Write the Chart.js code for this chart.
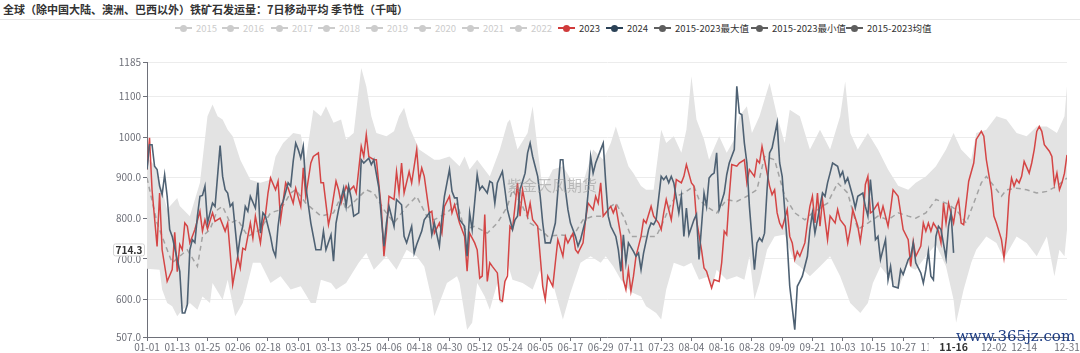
<!DOCTYPE html>
<html>
<head>
<meta charset="utf-8">
<script src="https://cdn.jsdelivr.net/npm/chart.js@4.4.1/dist/chart.umd.min.js"></script>
<style>
  html, body { margin: 0; padding: 0; background: #fff; }
  #wrap { position: relative; width: 1080px; height: 353px; overflow: hidden;
          font-family: "Noto Sans CJK SC", "Noto Sans", sans-serif; }
  #title { position: absolute; left: 3px; top: 1px; font-size: 11px; font-weight: bold; color: #333; white-space: nowrap; }
  #sep { position: absolute; left: 0; right: 0; top: 19px; height: 1px; background: #e6e6e6; }
  .lg { position: absolute; top: 21px; height: 14px; font-size: 9.5px; line-height: 14px; white-space: nowrap; }
  .lg i { position: absolute; left: 0; top: 6px; width: 17px; height: 2px; }
  .lg b { position: absolute; left: 5px; top: 3.5px; width: 7px; height: 7px; border-radius: 50%; }
  .lg span { position: absolute; left: 21px; top: 0; }
  canvas { position: absolute; left: 0; top: 0; }
  #wm1 { position: absolute; left: 507px; top: 174px; font-size: 15px; color: rgba(150,150,150,0.55); white-space: nowrap; }
  #wm2 { position: absolute; left: 956px; top: 327px; font-family: "DejaVu Serif", "Liberation Serif", serif;
         font-size: 15px; color: #1d3d84; white-space: nowrap; }
</style>
</head>
<body>
<div id="wrap">
  <div id="title">全球（除中国大陆、澳洲、巴西以外）铁矿石发运量：7日移动平均 季节性（千吨）</div>
  <div id="sep"></div>
  <div id="legend"></div>
  <canvas id="c" width="1080" height="353"></canvas>
  <div id="wm1">紫金天风期货</div>
  <div id="wm2">www.365jz.com</div>
</div>
<script>
// ── axis ticks ──
const Y_TICKS  = [507, 600, 700, 800, 900, 1000, 1100, 1185];
const Y_LABELS = ['507.0', '600.0', '700.0', '800.0', '900.0', '1000', '1100', '1185'];
const X_TICKS  = [0, 12, 24, 36, 48, 60, 72, 84, 96, 108, 120, 132, 144, 156, 168, 180,
                  192, 204, 216, 228, 240, 252, 264, 276, 288, 300, 312, 336, 348, 365];

// ── legend ──
const LEGEND_LABELS = ['2015', '2016', '2017', '2018', '2019', '2020', '2021', '2022',
                       '2023', '2024', '2015-2023最大值', '2015-2023最小值', '2015-2023均值'];
const LEGEND_LEFT   = [175, 222, 271, 318, 366, 414, 462, 510, 558, 606, 654, 751, 846];

// ── 2023 (day of year, value) ──
const D23 = [0,1,2,4,5,6,8,10,11,12,13,14,15,16,17,19,21,22,23,24,26,27,29,31,32,33,34,36,37,38,39,40,41,42,43,45,46,47,48,49,
  51,52,53,55,56,58,59,61,62,63,65,66,68,69,70,72,73,75,76,77,79,80,82,83,85,86,87,88,90,91,93,94,95,96,98,99,100,101,102,104,
  105,107,108,109,110,112,113,114,116,117,118,120,121,122,124,126,127,128,130,131,132,133,134,135,136,137,139,140,141,142,143,144,145,147,148,149,
  151,152,153,155,156,157,158,159,161,162,163,165,166,167,169,170,171,173,174,175,177,178,179,180,181,182,184,185,186,188,189,190,191,192,193,194,
  196,197,198,200,201,203,204,205,206,208,209,210,212,213,214,216,217,218,220,221,222,223,224,225,227,228,229,230,231,232,234,235,237,238,239,241,
  242,243,244,245,247,248,249,250,251,252,254,255,256,257,258,259,261,262,263,264,265,266,267,268,270,271,273,274,275,277,278,279,280,282,283,284,
  285,286,287,288,290,291,292,294,295,296,298,299,300,302,303,304,305,307,308,309,310,311,312,314,315,316,317,318,320,321,322,323,324,325,326,328,
  329,331,332,333,335,336,337,339,340,341,342,343,344,345,346,347,348,350,351,352,353,354,355,356,358,359,360,361,362,363,364,365];
const V23 = [920,998,870,730,862,722,644,673,765,668,735,722,788,780,739,772,817,768,796,773,813,792,800,768,788,714,636,706,677,726,722,755,788,751,805,739,788,809,862,899,
  870,891,796,887,874,837,874,829,924,854,936,952,961,887,887,784,813,891,870,837,879,866,879,862,977,952,1006,952,944,944,821,706,768,854,846,915,862,936,862,915,
  887,969,891,924,903,813,817,763,788,763,829,854,813,833,788,755,669,763,739,722,652,657,809,644,690,681,665,599,595,644,657,780,772,887,805,870,
  805,837,796,780,706,632,599,657,632,690,747,706,755,739,763,722,714,739,796,837,821,854,837,887,805,813,829,813,829,755,648,624,673,620,657,706,
  755,796,788,829,805,788,772,813,846,796,841,895,887,903,932,887,879,796,722,677,669,648,628,648,644,690,768,759,854,932,928,936,944,887,920,903,
  944,936,977,944,879,858,870,813,788,776,821,755,739,698,718,706,739,788,829,854,788,862,780,846,747,805,788,821,796,780,739,772,821,780,743,788,
  883,903,813,817,837,805,829,780,821,870,854,813,772,747,681,743,706,731,788,768,788,768,788,768,739,837,788,837,788,829,846,788,784,837,891,936,
  994,1014,1002,944,870,805,788,747,702,755,854,899,879,895,887,903,940,911,936,969,1014,1026,1014,981,965,952,883,911,870,887,911,956];

// ── 2024 ──
const D24 = [0,1,2,3,4,5,6,7,8,9,10,12,13,14,15,16,17,18,19,20,21,22,23,24,25,26,27,29,30,31,32,33,34,36,37,38,39,40,41,43,
  44,45,46,47,49,50,51,52,53,54,56,57,58,59,60,61,62,63,65,66,67,69,70,71,73,74,75,76,78,79,80,81,82,84,85,86,88,89,90,92,
  93,94,95,96,98,99,101,102,103,105,106,107,109,110,112,113,114,116,117,118,120,121,122,123,124,126,127,128,129,131,132,133,135,136,137,138,139,141,142,143,
  145,146,147,148,150,151,152,153,155,156,157,158,160,161,162,164,165,166,167,168,170,171,172,174,175,176,177,178,180,181,182,183,184,186,187,188,189,190,191,193,
  194,195,196,197,199,200,201,202,204,205,206,207,208,209,211,212,213,214,215,217,218,219,221,222,223,224,225,226,227,229,230,231,233,234,235,236,237,238,239,241,
  242,243,244,245,246,247,248,250,251,252,254,255,257,258,259,260,262,263,264,265,266,268,269,270,271,272,274,275,276,277,278,280,281,282,284,285,286,287,288,289,
  290,291,293,294,295,296,298,299,300,302,303,304,305,307,308,309,310,311,312,313,314,315,317,318,319,320];
const V24 = [920,981,981,928,920,879,858,907,854,772,755,698,669,566,566,587,722,747,740,805,854,856,879,788,813,837,829,979,903,870,862,829,837,710,755,780,829,817,854,825,
  887,763,813,805,755,722,706,780,829,841,887,879,940,985,969,948,977,879,788,755,722,722,768,722,759,694,788,821,874,829,879,850,805,813,944,936,948,932,944,874,
  800,731,788,829,780,846,833,755,739,780,714,735,768,796,813,759,788,731,800,854,920,866,850,850,796,780,706,813,772,907,870,879,862,891,887,837,887,915,870,821,
  772,796,805,870,911,961,985,952,903,854,788,739,739,763,788,944,944,870,821,788,755,731,747,796,862,952,911,936,969,985,887,805,780,755,722,669,759,690,739,718,
  706,714,673,714,772,788,784,796,903,895,903,887,903,887,813,854,755,825,759,796,809,698,862,829,899,907,911,961,821,862,907,936,969,1125,1059,1055,985,936,829,673,
  739,751,743,763,870,961,973,1035,936,903,739,632,525,632,644,657,706,772,813,763,796,862,854,887,911,936,928,903,915,887,899,854,825,854,862,829,805,895,829,747,
  755,698,747,648,681,632,628,673,661,698,706,739,690,665,640,673,718,657,648,755,780,772,702,780,813,714.3];

// ── 2015-2023 average ──
const DAVG = [0,4,8,10,13,16,20,22,25,28,30,33,36,40,45,49,53,57,59,63,69,74,77,79,87,90,94,98,103,107,111,114,119,123,126,130,135,139,143,145,
  149,152,156,159,164,169,173,177,181,184,186,189,192,196,198,202,204,208,210,213,217,219,222,226,230,234,238,242,245,249,253,257,261,264,270,274,278,282,286,290,
  294,298,302,305,309,313,317,321,325,328,331,333,336,339,341,345,349,353,357,361,365];
const VAVG = [899,788,722,690,706,722,681,755,772,821,829,788,796,755,772,813,821,862,870,837,805,813,854,821,870,862,821,788,829,854,805,796,813,837,772,780,763,788,829,870,
  829,788,772,755,759,755,796,805,805,829,837,805,755,755,755,755,780,837,854,862,879,846,829,813,846,841,854,870,952,944,854,813,796,813,837,887,862,772,788,805,
  796,813,805,800,813,846,837,821,788,837,887,903,879,854,870,874,870,862,866,879,899];

// ── 2015-2023 max ──
const DMAX = [0,3,6,8,12,13,17,21,24,26,28,30,32,34,37,41,45,49,51,54,58,61,63,66,69,71,74,77,79,82,84,85,87,89,91,95,98,100,102,104,
  108,114,116,120,124,126,128,131,136,140,143,144,147,151,153,155,157,161,165,169,173,177,181,184,186,188,191,193,196,198,201,204,206,209,212,214,216,218,221,223,
  227,230,233,235,238,240,243,247,250,253,255,259,263,267,271,275,277,279,282,286,290,294,298,302,305,309,313,317,320,323,327,329,333,337,341,345,349,353,357,361,364,365];
const VMAX = [951,930,870,822,850,830,805,887,1051,1080,1051,1043,1018,1002,944,895,887,895,952,985,1010,1006,944,1067,1051,1076,1035,1043,994,1010,1117,1170,1125,1051,1010,1002,1014,1051,1072,1026,
  969,944,944,952,928,952,920,944,903,969,1035,1043,969,1010,1076,969,870,920,928,887,887,969,944,985,1026,985,928,911,879,870,870,1018,985,1002,961,1018,1150,1043,994,944,
  1002,961,994,1051,1076,1010,1051,1133,1051,985,1067,1051,969,1018,969,1051,1137,1010,969,1010,969,920,880,870,887,903,928,969,1010,969,944,1010,1018,1051,1043,1010,1002,1026,1026,1010,1051,1125];

// ── 2015-2023 min ──
const DMIN = [0,5,6,8,10,12,14,17,20,22,25,26,30,32,35,38,42,45,49,53,57,61,65,67,69,73,75,79,84,87,90,95,99,103,107,110,113,114,116,119,
  123,124,127,129,131,134,136,139,140,141,143,145,149,153,156,158,159,161,165,168,172,176,180,182,185,188,192,196,198,202,204,206,209,213,216,219,223,224,226,230,
  234,237,239,241,243,246,249,253,255,257,259,263,267,271,275,279,283,286,288,291,294,298,302,303,305,309,313,317,320,321,324,327,329,333,337,340,345,349,353,357,360,362,364,365];
const VMIN = [675,673,624,591,583,558,574,591,574,607,591,640,599,648,558,591,690,690,640,657,624,632,591,591,648,640,624,640,690,714,673,706,673,722,706,681,599,558,591,640,
  657,640,525,542,640,607,574,640,590,590,690,648,640,624,673,595,657,640,550,616,690,706,690,706,681,648,618,607,583,566,550,624,690,681,690,648,657,625,673,648,
  657,648,706,600,640,722,755,760,722,690,681,657,681,706,657,591,566,591,640,681,657,624,690,678,673,706,735,681,599,542,624,690,722,755,739,700,755,739,706,755,657,722,706,772];

const pts = (ds, vs) => ds.map((d, i) => ({ x: d, y: vs[i] }));

const AXIS = '#6e7079';
const FONT = '"Noto Sans CJK SC", "Noto Sans", sans-serif';

function dayLabel(v) {
  const dt = new Date(2024, 0, 1 + v);
  const mm = String(dt.getMonth() + 1).padStart(2, '0');
  const dd = String(dt.getDate()).padStart(2, '0');
  return mm + '-' + dd;
}

// Legend (years 2015–2022 are switched off, greyed)
const legendColors = ['#ccc','#ccc','#ccc','#ccc','#ccc','#ccc','#ccc','#ccc','#d03b3b','#2b4257','#5e5e5e','#5e5e5e','#5e5e5e'];
document.getElementById('legend').innerHTML = LEGEND_LABELS.map((lbl, i) => {
  const on = i >= 8;
  const c = legendColors[i];
  return `<div class="lg" style="left:${LEGEND_LEFT[i]}px">
    <i style="background:${c}"></i><b style="background:${c}"></b>
    <span style="color:${on ? '#333' : '#ccc'}">${lbl}</span></div>`;
}).join('');

// axis-pointer labels (last 2024 point)
const pointerPlugin = {
  id: 'pointer',
  afterDraw(chart) {
    const { ctx, scales } = chart;
    const day = D24[D24.length - 1];
    const val = V24[V24.length - 1];
    ctx.save();
    ctx.textAlign = 'center'; ctx.textBaseline = 'middle';
    // x label
    ctx.font = 'bold 10.5px ' + FONT;
    const x = scales.x.getPixelForValue(day);
    const xt = dayLabel(day);
    ctx.fillStyle = '#fff';
    ctx.fillRect(x - 25, 339, 50, 14);
    ctx.fillStyle = '#333';
    ctx.fillText(xt, x, 347);
    // y label
    ctx.font = 'bold 10px ' + FONT;
    const y = scales.y.getPixelForValue(val) - 3;
    const yt = val.toFixed(1);
    ctx.fillStyle = '#fff';
    ctx.strokeStyle = '#d4d4d4'; ctx.lineWidth = 1;
    ctx.beginPath();
    ctx.roundRect(113.5, y - 6, 31, 12, 2);
    ctx.fill(); ctx.stroke();
    ctx.fillStyle = '#333';
    ctx.fillText(yt, 129, y + 0.5);
    ctx.restore();
  },
};

new Chart(document.getElementById('c'), {
  type: 'line',
  data: {
    datasets: [
      { label: '2015-2023最大值', data: pts(DMAX, VMAX), borderWidth: 0, pointRadius: 0, fill: false, order: 5 },
      { label: '2015-2023最小值', data: pts(DMIN, VMIN), borderWidth: 0, pointRadius: 0, fill: '-1',
        backgroundColor: '#e3e3e3', order: 4 },
      { label: '2015-2023均值', data: pts(DAVG, VAVG), borderColor: '#a3a3a3', borderWidth: 1.5,
        borderDash: [5, 4], pointRadius: 0, fill: false, order: 3 },
      { label: '2023', data: pts(D23, V23), borderColor: '#d44545', borderWidth: 1.5, pointRadius: 0, fill: false, order: 2 },
      { label: '2024', data: pts(D24, V24), borderColor: '#4e6173', borderWidth: 1.6, pointRadius: 0, fill: false, order: 1 },
    ],
  },
  options: {
    responsive: false,
    animation: false,
    events: [],
    layout: { padding: { top: 62, right: 13, left: 0, bottom: 0 } },
    plugins: { legend: { display: false }, tooltip: { enabled: false } },
    scales: {
      x: {
        type: 'linear', min: 0, max: 365,
        afterBuildTicks: s => { s.ticks = X_TICKS.map(v => ({ value: v })); },
        afterFit: s => { s.height = 16; },
        grid: { drawOnChartArea: false, tickLength: 4, tickColor: AXIS },
        border: { color: AXIS },
        ticks: { callback: v => dayLabel(v), autoSkip: false, maxRotation: 0, padding: 0,
                 color: AXIS, font: { size: 10, family: FONT } },
      },
      y: {
        min: 507, max: 1185,
        afterBuildTicks: s => { s.ticks = Y_TICKS.map(v => ({ value: v })); },
        afterFit: s => { s.width = 147; },
        grid: { color: '#ececec', tickLength: 4, tickColor: AXIS },
        border: { color: AXIS },
        ticks: { callback: v => Y_LABELS[Y_TICKS.indexOf(v)], padding: 2,
                 color: AXIS, font: { size: 10, family: FONT } },
      },
    },
  },
  plugins: [pointerPlugin],
});
</script>
</body>
</html>
